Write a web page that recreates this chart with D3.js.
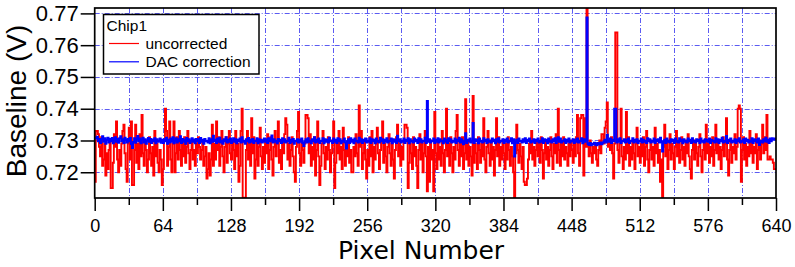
<!DOCTYPE html>
<html>
<head>
<meta charset="utf-8">
<script src="https://cdn.jsdelivr.net/npm/d3@7"></script>
<style>
  body { margin: 0; background: #fff; }
  svg { display: block; }
</style>
</head>
<body>
<svg id="chart" width="795" height="267"></svg>
<script>
// baseline per pixel, in mV
const uncorrected = [
  717,733,733,732,728,725,731,722,724,729,719,726,721,727,730,715,715,723,732,728,736,724,720,727,722,729,733,735,726,721,717,729,
  734,724,736,716,716,727,735,723,729,721,732,725,738,726,722,730,727,720,724,731,726,722,728,719,733,725,729,723,720,727,724,716,
  721,730,740,733,722,728,736,724,720,729,736,720,726,731,724,733,727,722,729,725,731,723,728,733,726,721,727,730,724,727,722,729,
  726,731,728,724,727,730,722,725,728,718,721,726,719,724,735,722,729,724,736,727,731,722,728,733,725,720,728,731,723,729,733,726,
  724,730,727,721,733,725,729,717,722,733,740,712,712,712,727,733,724,729,722,737,726,731,718,724,730,722,728,734,725,721,728,723,
  730,726,732,721,727,731,724,719,728,733,725,729,736,723,727,721,730,726,732,737,735,724,729,722,727,731,725,720,717,728,733,739,
  726,722,730,727,723,729,738,738,737,726,732,722,728,724,731,719,727,736,725,716,722,729,733,726,721,728,724,731,727,720,726,730,
  736,715,723,730,726,733,724,728,721,734,727,722,729,725,731,723,727,720,720,728,725,732,726,722,741,728,733,721,726,730,724,718,
  727,722,731,725,733,720,728,724,729,734,726,721,727,730,736,723,729,725,720,728,732,726,722,729,724,718,727,731,735,725,729,722,
  728,724,730,735,735,734,715,723,729,726,721,731,725,728,722,715,727,732,724,729,720,726,733,725,714,728,717,730,724,727,714,739,
  726,721,730,724,728,722,733,726,720,727,740,725,729,722,731,726,720,728,724,733,738,727,722,729,725,731,721,726,743,724,730,722,
  728,725,719,744,723,729,726,721,731,727,723,729,725,737,724,720,728,733,726,722,730,724,728,719,727,737,725,731,722,728,724,730,
  726,721,729,724,731,727,722,728,725,720,712,726,735,727,723,729,725,721,728,717,716,716,718,724,729,726,733,724,728,722,727,730,
  725,729,723,731,727,718,726,730,724,728,722,727,731,725,721,729,726,732,723,740,727,722,729,725,731,724,728,726,722,729,725,730,
  727,723,729,725,731,738,726,722,737,738,738,719,737,728,775,728,725,730,726,723,728,726,729,724,722,727,730,726,732,732,729,734,
  736,742,728,730,727,731,726,718,729,764,764,727,723,729,740,725,721,728,724,739,726,731,722,728,724,730,726,721,729,734,725,728,
  723,729,725,731,722,728,733,724,720,727,730,724,728,722,734,726,729,723,727,717,724,712,728,735,725,730,721,727,732,724,729,726,
  721,728,733,725,729,723,727,731,724,728,722,730,726,732,725,721,718,727,730,724,729,726,722,728,732,725,720,727,730,724,735,726,
  729,723,728,725,731,722,727,735,726,730,724,728,721,727,731,725,729,737,724,719,727,730,723,728,726,732,724,728,740,741,740,717,
  727,731,724,729,722,728,725,733,726,730,723,728,726,732,721,727,730,724,729,735,726,731,727,738,724,724,725,724,724,723,721,721
];

const dacCorrection = [
  730.9,730.6,731.2,729.8,730.5,729.2,730.4,731.3,729.6,730.7,729.0,730.2,730.9,729.4,730.5,729.8,730.8,729.1,730.3,731.0,729.6,730.5,729.3,730.7,731.3,729.8,730.4,729.2,730.9,730.2,729.4,730.5,
  729.8,730.8,728.9,727.6,729.5,730.7,729.3,730.4,731.4,729.8,730.6,729.1,730.2,730.9,729.4,730.4,729.0,729.9,730.8,729.6,730.5,729.2,730.3,729.8,730.7,729.1,730.4,729.6,729.9,730.6,729.3,730.2,
  729.2,730.4,729.8,730.9,729.0,730.2,729.4,730.6,729.6,731.0,729.1,729.9,730.7,729.4,730.4,729.8,731.3,729.2,730.5,729.6,730.2,729.0,730.8,729.8,730.4,729.2,729.9,730.7,729.6,730.3,729.1,730.5,
  729.8,730.4,729.2,730.8,729.6,730.2,729.0,730.5,729.8,729.9,729.4,730.7,729.1,730.4,729.6,731.5,729.8,730.2,729.2,730.6,729.6,730.9,729.4,729.9,729.0,730.4,729.8,731.0,729.4,730.2,729.6,730.6,
  729.2,729.9,730.7,729.6,730.4,729.1,730.2,729.8,730.6,729.4,731.0,729.6,729.9,729.0,730.4,729.8,730.8,729.4,730.2,729.6,730.5,729.2,729.9,729.8,730.7,729.1,730.4,729.6,730.2,729.4,729.9,730.6,
  729.6,730.4,729.2,730.7,729.8,730.2,731.6,729.4,730.4,729.6,729.9,729.1,730.5,729.8,730.2,729.2,730.7,729.6,730.4,729.4,729.9,729.8,730.9,729.2,730.2,729.6,730.5,729.0,729.9,729.8,730.4,729.4,
  730.2,729.6,730.6,729.2,728.3,729.8,730.4,729.4,730.7,729.6,729.9,729.1,730.4,729.8,731.0,729.4,730.2,729.6,730.6,729.2,729.9,729.8,730.7,729.1,730.4,729.6,730.2,729.4,730.9,729.8,729.9,729.2,
  730.6,729.6,730.2,729.2,730.7,729.8,730.4,729.1,729.9,729.6,730.6,729.4,727.5,729.8,730.4,729.2,730.7,729.6,730.2,729.1,730.6,729.8,729.9,729.4,730.9,729.6,730.4,729.2,730.2,729.8,730.6,729.4,
  729.9,729.6,730.7,729.2,730.4,729.8,730.2,729.1,730.6,729.6,729.9,729.4,730.9,729.8,730.4,729.2,730.2,729.6,730.7,729.4,729.9,729.8,730.6,729.1,730.4,729.6,730.2,729.2,731.5,729.8,730.4,729.4,
  729.9,729.6,730.6,729.2,730.2,729.8,730.7,729.1,730.4,729.6,729.9,729.4,730.6,729.8,730.2,729.2,730.7,729.6,730.4,729.4,729.9,729.8,730.9,729.2,742.4,729.6,730.4,729.4,729.9,729.8,730.6,729.2,
  730.2,729.6,730.7,729.4,730.4,729.8,729.9,729.1,730.6,729.6,730.2,729.2,730.7,729.8,730.4,729.4,729.9,729.6,730.6,729.2,730.2,729.8,730.9,729.4,730.4,729.6,728.8,729.9,732.3,729.2,730.2,729.8,
  730.6,729.4,729.9,735.5,729.2,730.4,729.8,730.2,729.1,730.6,729.6,729.9,729.4,730.7,729.8,730.2,729.2,730.4,729.6,729.9,729.4,730.6,729.8,730.2,729.1,730.4,729.6,730.7,729.4,729.9,729.8,730.4,
  729.2,730.2,729.6,730.6,729.4,729.9,729.8,730.7,729.1,730.4,725.0,729.6,730.2,729.2,730.6,729.8,729.9,729.4,730.4,729.6,730.7,729.2,730.2,729.8,730.6,729.4,729.9,729.6,730.4,729.2,730.2,729.8,
  730.6,729.4,729.9,729.6,730.7,729.2,730.4,729.8,730.2,729.1,730.6,729.6,729.9,729.4,730.4,729.8,730.7,729.2,730.2,731.0,729.6,730.6,729.4,729.9,729.8,730.4,729.2,730.2,729.6,730.6,729.4,729.9,
  729.8,730.4,729.2,730.2,729.6,730.6,729.4,729.9,729.8,730.7,729.1,730.4,729.6,730.2,768.7,728.9,728.6,729.2,728.5,729.0,728.7,729.3,728.8,728.5,729.2,728.7,729.0,729.4,728.8,729.3,729.7,730.2,
  729.4,731.8,729.9,729.6,730.6,729.2,730.2,729.8,740.0,740.0,729.4,730.4,729.6,730.7,729.2,729.9,729.8,730.4,729.4,730.2,729.6,730.6,729.2,729.9,729.8,730.7,729.4,730.2,729.6,730.4,729.2,729.9,
  729.8,730.6,729.4,730.2,729.6,729.9,729.2,730.7,729.8,730.4,729.4,729.9,729.6,730.6,729.2,730.2,729.8,730.4,729.4,730.9,729.6,726.5,729.8,730.2,729.2,730.6,729.6,729.9,729.4,730.4,729.8,730.2,
  729.2,730.6,729.6,729.9,729.4,730.7,729.8,730.2,729.1,730.4,729.6,729.9,729.4,730.6,729.8,730.2,729.2,730.7,729.6,729.9,729.4,730.4,729.8,730.2,729.2,730.6,729.6,729.9,729.4,730.4,729.8,730.2,
  729.6,730.6,729.2,730.2,729.8,729.9,729.4,730.7,729.6,730.4,729.2,730.2,729.8,730.9,729.4,729.9,729.6,731.4,729.2,730.2,729.8,730.6,729.4,729.9,729.6,730.4,729.2,730.2,729.8,730.7,729.4,729.9,
  729.6,730.4,729.2,730.6,729.8,730.2,729.4,729.9,729.6,730.7,729.2,730.4,729.8,730.2,729.4,730.6,728.6,729.6,729.9,729.4,730.4,729.8,730.9,729.6,730.2,729.2,730.6,729.8,730.7,730.4,730.2,730.6
];

const xTicks = [0, 64, 128, 192, 256, 320, 384, 448, 512, 576, 640];
const xMinor = [32, 96, 160, 224, 288, 352, 416, 480, 544, 608];
const yTicks = [0.72, 0.73, 0.74, 0.75, 0.76, 0.77];

const seriesNames = ["uncorrected", "DAC correction"];
const seriesColors = ["#ff0000", "#0000ff"];
const seriesWidths = [1.9, 2];

const svg = d3.select("#chart");
const plotBox = { left: 94.7, right: 776, top: 8, bottom: 198 };
const gridColor = "#5b5bf2";

const x = d3.scaleLinear().domain([0, 640]).range([plotBox.left, plotBox.right]);
const y = d3.scaleLinear().domain([0.7119, 0.7717]).range([plotBox.bottom, plotBox.top]);

// grid
const grid = svg.append("g")
  .attr("stroke", gridColor).attr("stroke-width", 1)
  .attr("stroke-dasharray", "5,2,1,2");
grid.selectAll(".gx").data(xTicks.concat(xMinor).filter(d => d > 0 && d < 640))
  .join("line")
  .attr("x1", d => Math.round(x(d)) + 0.5).attr("x2", d => Math.round(x(d)) + 0.5)
  .attr("y1", plotBox.top).attr("y2", plotBox.bottom);
grid.selectAll(".gy").data(yTicks)
  .join("line")
  .attr("x1", plotBox.left).attr("x2", plotBox.right)
  .attr("y1", d => Math.round(y(d)) + 0.5).attr("y2", d => Math.round(y(d)) + 0.5);

// data
svg.append("clipPath").attr("id", "plot-clip")
  .append("rect").attr("x", plotBox.left).attr("y", plotBox.top)
  .attr("width", plotBox.right - plotBox.left).attr("height", plotBox.bottom - plotBox.top);

const line = d3.line()
  .x((d, i) => x(i))
  .y(d => y(d / 1000))
  .curve(d3.curveStepAfter);

const plot = svg.append("g").attr("clip-path", "url(#plot-clip)");
[uncorrected, dacCorrection].forEach((vals, k) => {
  plot.append("path")
    .datum(vals.concat([vals[vals.length - 1]]))
    .attr("fill", "none")
    .attr("stroke", seriesColors[k])
    .attr("stroke-width", seriesWidths[k])
    .attr("stroke-linejoin", "miter")
    .attr("d", line);
});

// axes
const xAxis = svg.append("g").attr("transform", `translate(0,${plotBox.bottom})`)
  .call(d3.axisBottom(x).tickValues(xTicks).tickSize(13).tickPadding(8).tickFormat(d3.format("d")));
const xAxisMinor = svg.append("g").attr("transform", `translate(0,${plotBox.bottom})`)
  .call(d3.axisBottom(x).tickValues(xMinor).tickSize(7).tickFormat(""));
const yAxis = svg.append("g").attr("transform", `translate(${plotBox.left},0)`)
  .call(d3.axisLeft(y).tickValues(yTicks).tickSize(14).tickPadding(2).tickFormat(d3.format(".2f")));

[xAxis, xAxisMinor, yAxis].forEach(a => {
  a.select(".domain").remove();
  a.selectAll("line").attr("stroke", "#000").attr("stroke-width", 1.5);
});
xAxis.selectAll("text").attr("font-family", "Liberation Sans, Arial, sans-serif")
  .attr("font-size", 18).attr("fill", "#000");
yAxis.selectAll("text").attr("font-family", "Liberation Sans, Arial, sans-serif")
  .attr("font-size", 22).attr("fill", "#000");

// frame
svg.append("rect")
  .attr("x", plotBox.left).attr("y", plotBox.top)
  .attr("width", plotBox.right - plotBox.left).attr("height", plotBox.bottom - plotBox.top)
  .attr("fill", "none").attr("stroke", "#000").attr("stroke-width", 1.7);

// titles
svg.append("text")
  .attr("transform", `translate(26,101) rotate(-90)`)
  .attr("text-anchor", "middle")
  .attr("font-family", "Liberation Sans, Arial, sans-serif")
  .attr("font-size", 28)
  .text("Baseline (V)");

svg.append("text")
  .attr("x", 421).attr("y", 259)
  .attr("text-anchor", "middle")
  .attr("font-family", "DejaVu Sans, Verdana, sans-serif")
  .attr("font-size", 25)
  .text("Pixel Number");

// legend
const legend = svg.append("g").attr("font-family", "Liberation Sans, Arial, sans-serif")
  .attr("font-size", 15.5);
legend.append("rect")
  .attr("x", 103.5).attr("y", 14.5).attr("width", 155.5).attr("height", 59.5)
  .attr("fill", "#fff").attr("stroke", "#000").attr("stroke-width", 1.5);
legend.append("text").attr("x", 106.5).attr("y", 31).text("Chip1");
seriesNames.forEach((name, k) => {
  const ly = 43.5 + k * 18.3;
  legend.append("line")
    .attr("x1", 109).attr("x2", 139).attr("y1", ly).attr("y2", ly)
    .attr("stroke", seriesColors[k]).attr("stroke-width", 1.2);
  legend.append("text").attr("x", 145.5).attr("y", ly + 5.3).text(name);
});
</script>
</body>
</html>
